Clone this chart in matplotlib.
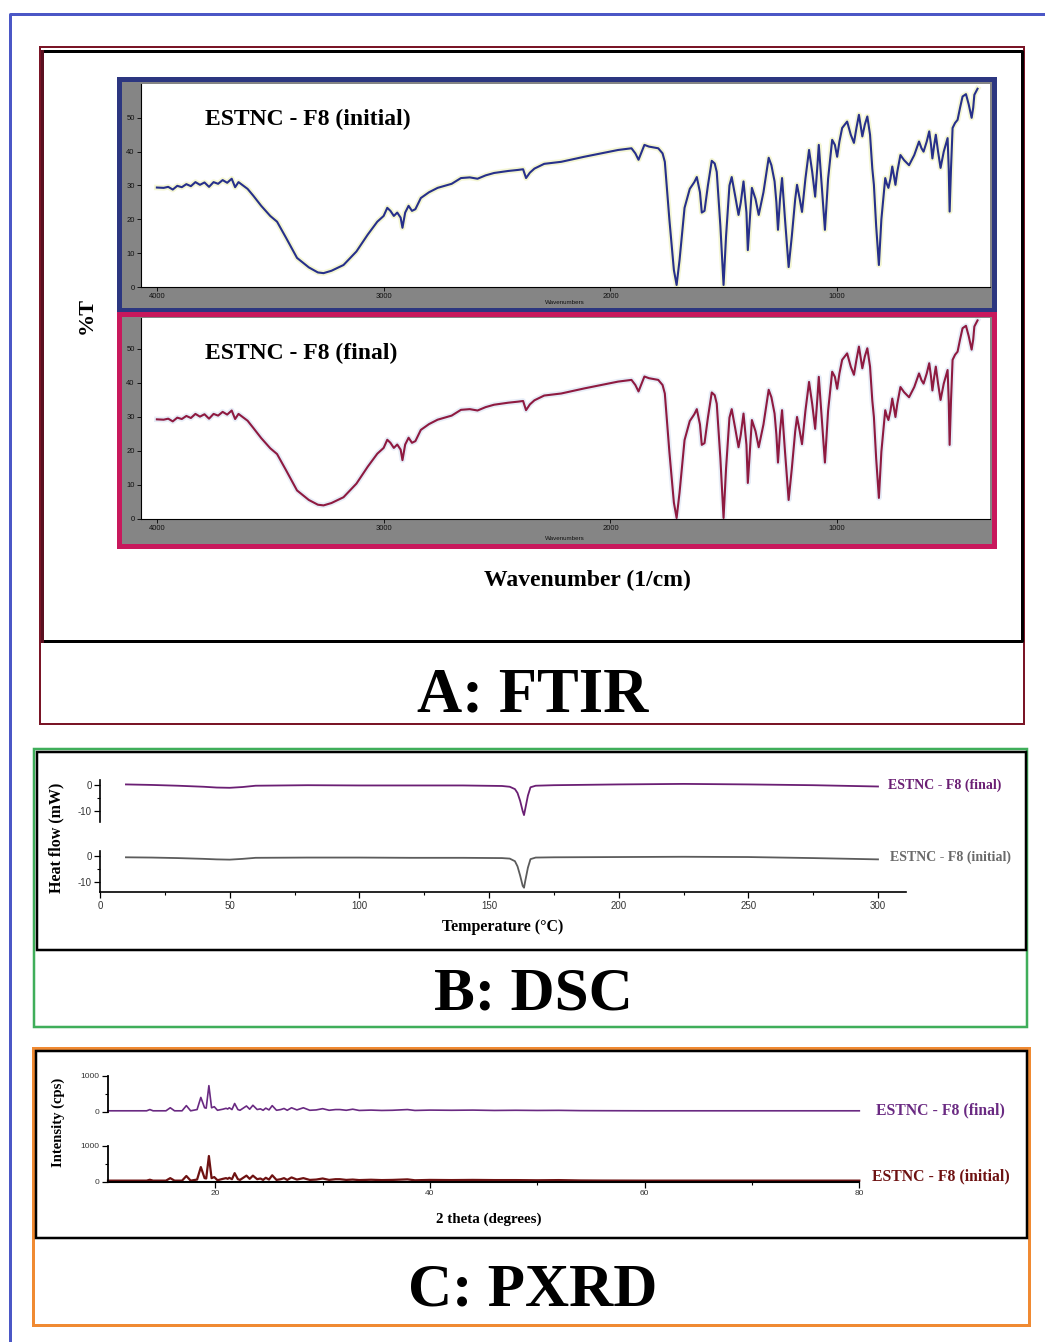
import matplotlib
matplotlib.use("Agg")
import matplotlib.pyplot as plt
from matplotlib.patches import Rectangle
import numpy as np

# ---------------- data ----------------
# FTIR: wavenumber (1/cm) and transmittance (%T)
ftir_wn = [4000, 3970, 3950, 3930, 3910, 3890, 3870, 3850, 3830, 3810, 3790, 3770,
           3750, 3730, 3710, 3690, 3670, 3655, 3640, 3620, 3600, 3575, 3540, 3500,
           3470, 3430, 3382, 3330, 3290, 3265, 3230, 3177, 3120, 3070, 3028, 3000,
           2984, 2970, 2955, 2940, 2925, 2917, 2905, 2890, 2875, 2860, 2836, 2800,
           2762, 2700, 2659, 2620, 2586, 2550, 2513, 2450, 2408, 2385, 2372, 2355,
           2335, 2292, 2217, 2115, 2040, 1966, 1907, 1890, 1876, 1862, 1850, 1830,
           1789, 1770, 1760, 1740, 1720, 1708, 1695, 1673, 1650, 1630, 1619, 1605,
           1597, 1585, 1570, 1553, 1540, 1531, 1515, 1501, 1490, 1475, 1465, 1450,
           1435, 1425, 1413, 1400, 1394, 1385, 1376, 1360, 1346, 1325, 1302, 1290,
           1276, 1268, 1261, 1252, 1243, 1230, 1214, 1200, 1185, 1177, 1165, 1155,
           1140, 1124, 1110, 1097, 1088, 1081, 1068, 1054, 1040, 1022, 1010, 1000,
           990, 978, 956, 940, 926, 915, 904, 895, 889, 878, 867, 855,
           845, 838, 828, 816, 805, 788, 781, 774, 765, 757, 750, 743,
           735, 721, 705, 683, 660, 639, 628, 619, 605, 594, 586, 580,
           572, 565, 555, 544, 530, 513, 508, 504, 498, 491, 480, 469,
           458, 447, 432, 420, 407, 400, 395, 381]

ftir_initial = [29.4, 29.3, 29.6, 28.8, 29.9, 29.5, 30.4, 29.8, 31.0, 30.2, 30.9, 29.6,
                31.0, 30.5, 31.6, 30.8, 32.0, 29.5, 31.0, 30.0, 29.0, 27.0, 24.0, 21.0,
                19.3, 14.5, 8.6, 5.8, 4.3, 4.1, 4.8, 6.5, 10.5, 15.5, 19.3, 21.0,
                23.4, 22.5, 21.0, 22.0, 20.5, 17.5, 22.0, 24.0, 22.5, 23.0, 26.3, 28.0,
                29.3, 30.5, 32.2, 32.4, 32.0, 33.0, 33.7, 34.3, 34.6, 34.8, 32.2, 33.8,
                35.0, 36.4, 37.0, 38.5, 39.5, 40.5, 41.0, 39.5, 37.6, 40.0, 42.0, 41.5,
                41.0, 39.5, 37.0, 20.0, 5.0, 0.6, 8.0, 23.4, 29.0, 31.0, 32.5, 28.0,
                22.0, 22.5, 30.0, 37.3, 36.5, 34.0, 18.0, 0.6, 15.0, 30.0, 32.5, 27.0,
                21.3, 25.0, 31.2, 22.0, 10.9, 20.0, 29.3, 26.0, 21.3, 28.0, 38.2, 36.0,
                31.2, 25.0, 16.9, 26.0, 32.2, 20.0, 5.9, 15.0, 26.0, 30.2, 26.0, 22.2,
                32.0, 40.5, 34.0, 26.7, 35.0, 42.0, 30.0, 16.9, 32.0, 43.5, 42.0, 38.5,
                43.0, 47.0, 48.9, 45.0, 42.6, 47.0, 50.9, 47.0, 44.5, 48.0, 50.4, 45.0,
                35.0, 30.2, 18.0, 6.5, 20.0, 32.2, 30.5, 29.3, 32.0, 35.6, 33.0, 30.2,
                34.0, 39.0, 37.5, 36.0, 39.0, 43.0, 41.0, 40.0, 43.0, 46.0, 42.0, 38.0,
                42.0, 45.0, 40.0, 35.2, 40.0, 44.0, 35.0, 22.3, 35.0, 47.0, 48.5, 49.4,
                53.0, 56.3, 57.0, 54.0, 50.0, 53.0, 56.8, 58.6]

ftir_final = [29.3, 29.2, 29.5, 28.7, 29.8, 29.4, 30.3, 29.7, 30.9, 30.1, 30.8, 29.5,
              30.9, 30.4, 31.5, 30.7, 31.9, 29.4, 30.9, 29.9, 28.9, 26.8, 23.8, 20.8,
              19.1, 14.3, 8.4, 5.6, 4.2, 4.0, 4.7, 6.4, 10.4, 15.4, 19.2, 20.9,
              23.3, 22.4, 20.9, 21.9, 20.4, 17.3, 21.9, 23.9, 22.4, 22.9, 26.2, 27.9,
              29.2, 30.4, 32.1, 32.3, 31.9, 32.9, 33.6, 34.2, 34.5, 34.7, 32.0, 33.7,
              34.9, 36.3, 36.9, 38.4, 39.4, 40.4, 40.9, 39.4, 37.5, 39.9, 41.9, 41.4,
              40.9, 39.4, 36.9, 19.8, 4.8, 0.3, 7.8, 23.2, 28.8, 30.8, 32.3, 27.8,
              21.8, 22.3, 29.8, 37.2, 36.4, 33.9, 17.8, 0.3, 14.8, 29.8, 32.3, 26.8,
              21.1, 24.8, 31.0, 21.8, 10.6, 19.8, 29.1, 25.8, 21.1, 27.8, 38.0, 35.8,
              31.0, 24.8, 16.6, 25.8, 32.0, 19.8, 5.6, 14.8, 25.8, 30.0, 25.8, 22.0,
              31.8, 40.3, 33.8, 26.5, 34.8, 41.8, 29.8, 16.6, 31.8, 43.3, 41.8, 38.3,
              42.8, 46.8, 48.7, 44.8, 42.4, 46.8, 50.7, 46.8, 44.3, 47.8, 50.2, 44.8,
              34.8, 30.0, 17.8, 6.2, 19.8, 32.0, 30.3, 29.1, 31.8, 35.4, 32.8, 30.0,
              33.8, 38.8, 37.3, 35.8, 38.8, 42.8, 40.8, 39.8, 42.8, 45.8, 41.8, 37.8,
              41.8, 44.8, 39.8, 35.0, 39.8, 43.8, 34.8, 21.8, 34.8, 46.8, 48.3, 49.2,
              52.8, 56.1, 56.8, 53.8, 49.8, 52.8, 56.6, 58.4]

ftir_xticks = [4000, 3000, 2000, 1000]
ftir_yticks = [0, 10, 20, 30, 40, 50]

# DSC: temperature (deg C) and heat flow (mW)
dsc_temp = [10, 20, 30, 40, 45, 50, 55, 60, 80, 100, 120, 140, 155, 158, 160, 161,
            162, 163, 163.5, 164, 165, 166, 168, 175, 200, 225, 250, 275, 290, 300]
dsc_final = [0.3, 0.1, -0.2, -0.6, -0.9, -1.0, -0.7, -0.2, 0.0, -0.1, -0.1, -0.1,
             -0.3, -0.6, -1.5, -3.0, -6.0, -10.0, -11.5, -9.0, -4.0, -0.8, -0.2, 0.0,
             0.3, 0.5, 0.3, 0.0, -0.3, -0.5]
dsc_initial = [-0.5, -0.6, -0.8, -1.1, -1.3, -1.4, -1.1, -0.7, -0.6, -0.6, -0.7, -0.7,
               -0.8, -1.0, -2.0, -4.0, -7.5, -11.5, -12.2, -9.5, -4.5, -1.2, -0.6, -0.5,
               -0.4, -0.3, -0.4, -0.8, -1.1, -1.3]
dsc_xticks = [0, 50, 100, 150, 200, 250, 300]
dsc_yticks = [0, -10]

# PXRD: 2 theta (degrees) and intensity (cps)
pxrd_theta = [10, 12, 13.6, 13.9, 14.2, 15.4, 15.8, 16.2, 16.9, 17.3,
              17.7, 18.3, 18.65, 19.0, 19.15, 19.4, 19.65, 19.9, 20.2, 20.7,
              21.0, 21.15, 21.3, 21.55, 21.8, 22.1, 22.3, 22.6, 22.9, 23.2,
              23.5, 23.9, 24.2, 24.45, 24.7, 25.0, 25.3, 25.7, 26.1, 26.4,
              26.7, 27.1, 27.6, 28.2, 28.8, 29.4, 30.0, 30.6, 31.2, 31.6,
              32.2, 32.8, 33.4, 34.5, 35.5, 36.5, 37.9, 38.6, 40, 42,
              44, 46, 48, 50, 52, 54, 56, 60, 70, 80]
pxrd_final = [25, 25, 25, 60, 25, 25, 110, 25, 25, 170,
              25, 60, 400, 110, 100, 730, 110, 140, 40, 70,
              95, 75, 110, 60, 230, 60, 40, 100, 160, 70,
              180, 60, 80, 40, 100, 50, 170, 40, 60, 90,
              40, 110, 50, 110, 40, 50, 85, 40, 60, 60,
              40, 70, 35, 45, 35, 40, 60, 35, 45, 40,
              45, 35, 40, 35, 38, 30, 28, 25, 25, 25]
pxrd_initial = [30, 30, 30, 55, 30, 30, 100, 30, 30, 160,
                30, 60, 410, 100, 90, 720, 100, 130, 40, 80,
                100, 80, 110, 70, 240, 70, 50, 110, 170, 80,
                170, 70, 90, 50, 110, 60, 180, 50, 70, 100,
                50, 120, 60, 100, 50, 60, 90, 50, 70, 70,
                50, 60, 45, 55, 45, 50, 65, 40, 50, 45,
                50, 45, 45, 40, 45, 35, 32, 30, 30, 30]
pxrd_xticks = [20, 40, 60, 80]
pxrd_yticks = [0, 1000]

label_final = "ESTNC - F8 (final)"
label_initial = "ESTNC - F8 (initial)"

# ---------------- layout helpers ----------------
W, H = 1045, 1342
fig = plt.figure(figsize=(W / 100, H / 100), dpi=100)
SERIF = "Liberation Serif"
SANS = "Liberation Sans"


def px_axes(x0, y0, x1, y1):
    return fig.add_axes([x0 / W, 1 - y1 / H, (x1 - x0) / W, (y1 - y0) / H])


bg = px_axes(0, 0, W, H)
bg.set_xlim(0, W)
bg.set_ylim(H, 0)
bg.axis("off")


def rect(x0, y0, x1, y1, edge, lw_px, fill=None, z=1):
    bg.add_patch(Rectangle((x0, y0), x1 - x0, y1 - y0,
                           facecolor=fill if fill else "none",
                           edgecolor=edge, lw=lw_px * 0.72, zorder=z))


def line(xs, ys, color, lw_px, z=2):
    bg.plot(xs, ys, color=color, lw=lw_px * 0.72, solid_capstyle="projecting", zorder=z)


def ftext(x, y, s, size, color="black", bold=True, family=SERIF, **kw):
    fig.text(x / W, 1 - y / H, s, fontsize=size,
             fontweight="bold" if bold else "normal", family=family, color=color,
             ha=kw.pop("ha", "center"), va=kw.pop("va", "center"), **kw)


# ---------------- outer frames ----------------
line([10, 10, W], [H, 14, 14], "#4b57c6", 3)

# FTIR block
rect(40, 47, 1024, 724, "#7a1526", 2)
line([42, 1022, 1022, 42], [51, 51, 641, 641], "black", 3)
line([42, 42], [51, 641], "#5a1020", 3)

# DSC block
rect(34, 749, 1027, 1027, "#3fae5a", 2.5)
rect(37, 752, 1026, 950, "black", 2.5)

# PXRD block
rect(33, 1048, 1029, 1325, "#f08a32", 3)
rect(36, 1051, 1027, 1238, "black", 2.5)


# ---------------- FTIR panels ----------------
def ftir_panel(ftop, fbot, ptop, pbot, ytop, T, frame_color, line_color, halo, label):
    rect(119, ftop, 994, fbot, frame_color, 5, fill="#858585")
    ax = px_axes(141, ptop, 990, pbot)
    ax.set_facecolor("white")
    ax.plot(ftir_wn, T, color=halo, lw=4.0, alpha=0.6, solid_joinstyle="round")
    ax.plot(ftir_wn, T, color=line_color, lw=1.5, solid_joinstyle="round")
    ax.set_xlim(4070, 326)
    ax.set_ylim(0, ytop)
    ax.set_xticks(ftir_xticks)
    ax.set_xticklabels([str(v) for v in ftir_xticks])
    ax.set_yticks(ftir_yticks)
    ax.set_yticklabels([str(v) for v in ftir_yticks])
    ax.tick_params(labelsize=5.5, length=3, width=0.6, pad=1.5, direction="out",
                   colors="black", labelcolor="#111111")
    for s in ("top", "right"):
        ax.spines[s].set_visible(False)
    for s in ("left", "bottom"):
        ax.spines[s].set_linewidth(0.8)
    for t in ax.get_xticklabels() + ax.get_yticklabels():
        t.set_family(SANS)
    ftext(565, fbot - 8, "Wavenumbers", 4.5, color="#111111", bold=False, family=SANS)
    ftext(205, ptop + 35, label, 17, ha="left")


ftir_panel(79, 310, 84, 287, 60.0, ftir_initial, "#2c3680", "#27308a", "#eef0b8",
           label_initial)
ftir_panel(314, 546, 318, 519, 59.1, ftir_final, "#c8185c", "#8e1a40", "#d8e2f2",
           label_final)

ftext(87, 315, "%T", 16, rotation=90)
ftext(587, 580, "Wavenumber (1/cm)", 17)
ftext(533, 697, "A: FTIR", 45)

# ---------------- DSC ----------------
DSC_X0, DSC_X1 = 100, 906
dsc_xmax = 300 * (DSC_X1 - DSC_X0) / 778.0


def style_small(ax, xlabels, size):
    ax.tick_params(axis="both", which="major", labelsize=size, length=4, width=0.9,
                   direction="out", pad=2, labelcolor="#333333")
    ax.tick_params(axis="both", which="minor", length=2.5, width=0.8, direction="out")
    for t in ax.get_xticklabels() + ax.get_yticklabels():
        t.set_family(SANS)
    if not xlabels:
        ax.tick_params(axis="x", which="both", bottom=False, labelbottom=False)


dsc_top = px_axes(DSC_X0, 780, DSC_X1, 821.6)
dsc_bot = px_axes(DSC_X0, 850.8, DSC_X1, 892.4)
for ax, data, col, txtcol, lab, ylab, xlab in (
        (dsc_top, dsc_final, "#6b1f74", "#6b1f74", label_final, 785, 888),
        (dsc_bot, dsc_initial, "#5c5c5c", "#6a6a6a", label_initial, 857, 890)):
    ax.patch.set_visible(False)
    ax.plot(dsc_temp, data, color=col, lw=1.3, clip_on=False)
    ax.set_xlim(0, dsc_xmax)
    ax.set_ylim(-14, 2)
    ax.set_yticks(dsc_yticks)
    ax.set_yticklabels(["0", "-10"])
    ax.set_yticks([-5], minor=True)
    ax.set_xticks(dsc_xticks)
    ax.set_xticklabels([str(v) for v in dsc_xticks])
    ax.set_xticks([25, 75, 125, 175, 225, 275], minor=True)
    for s in ("top", "right"):
        ax.spines[s].set_visible(False)
    ax.spines["left"].set_linewidth(1.2)
    ax.spines["bottom"].set_linewidth(1.2)
    style_small(ax, ax is dsc_bot, 7)
    if ax is dsc_top:
        ax.spines["bottom"].set_visible(False)
    ftext(xlab, ylab, lab, 10, color=txtcol, ha="left")

ftext(56, 838, "Heat flow (mW)", 11.5, rotation=90)
ftext(503, 927, "Temperature (°C)", 11.5)
ftext(533, 995, "B: DSC", 44)

# ---------------- PXRD ----------------
PX_X0, PX_X1 = 108, 859.3
px_top = px_axes(PX_X0, 1076, PX_X1, 1111.7)
px_bot = px_axes(PX_X0, 1146, PX_X1, 1181.7)
for ax, data, col, lw, lab, ylab, xlab in (
        (px_top, pxrd_final, "#6a2a82", 1.2, label_final, 1110, 876),
        (px_bot, pxrd_initial, "#6e1212", 1.6, label_initial, 1176, 872)):
    ax.patch.set_visible(False)
    ax.plot(pxrd_theta, data, color=col, lw=lw, clip_on=False)
    ax.set_xlim(10, 80)
    ax.set_ylim(0, 1000)
    ax.set_yticks(pxrd_yticks)
    ax.set_yticklabels([str(v) for v in pxrd_yticks])
    ax.set_yticks([500], minor=True)
    ax.set_xticks(pxrd_xticks)
    ax.set_xticklabels([str(v) for v in pxrd_xticks])
    ax.set_xticks([30, 50, 70], minor=True)
    for s in ("top", "right"):
        ax.spines[s].set_visible(False)
    ax.spines["left"].set_linewidth(1.3)
    ax.spines["bottom"].set_linewidth(1.5)
    style_small(ax, ax is px_bot, 6)
    if ax is px_top:
        ax.spines["bottom"].set_visible(False)
    ftext(xlab, ylab, lab, 11.3, color=col, ha="left")

ftext(58, 1122, "Intensity (cps)", 10.5, rotation=90)
ftext(489, 1219, "2 theta (degrees)", 10.8)
ftext(533, 1290, "C: PXRD", 44)

fig.savefig("out.png", dpi=100, facecolor="white")
